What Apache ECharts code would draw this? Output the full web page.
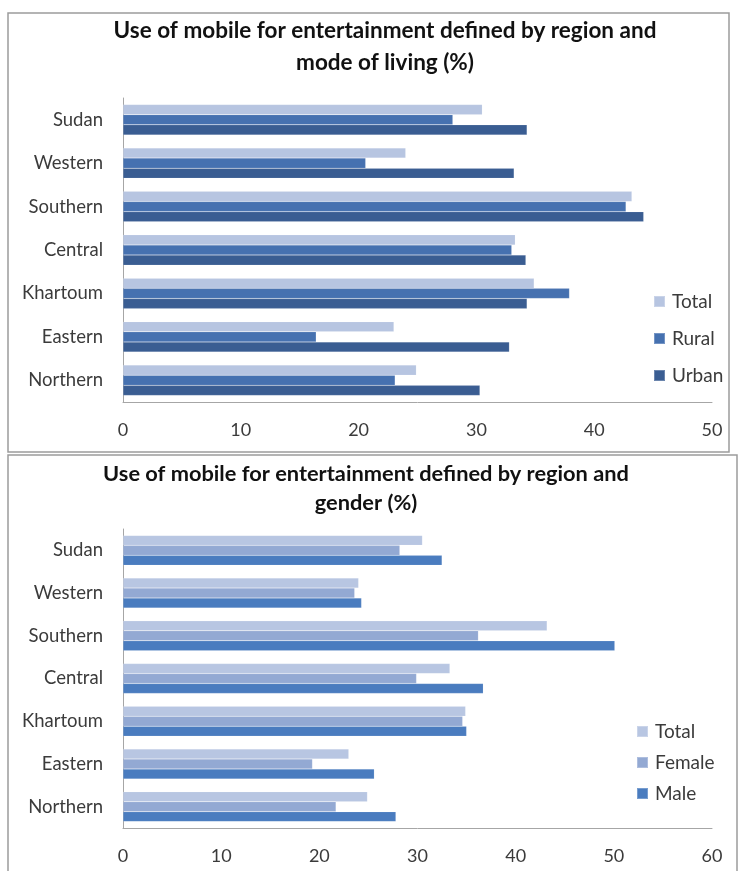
<!DOCTYPE html>
<html>
<head>
<meta charset="utf-8">
<script src="https://cdn.jsdelivr.net/npm/echarts@6/dist/echarts.min.js"></script>
<style>
  html, body { margin: 0; padding: 0; background: #ffffff; }
  #chart { width: 738px; height: 871px; }
</style>
</head>
<body>
<div id="chart"></div>
<script>
// Regions, listed top to bottom
const regions = ['Sudan', 'Western', 'Southern', 'Central', 'Khartoum', 'Eastern', 'Northern'];

// Share using mobile for entertainment (%)
const totalPct  = [30.5, 24.0, 43.2, 33.3, 34.9, 23.0, 24.9];
const ruralPct  = [28.0, 20.6, 42.7, 33.0, 37.9, 16.4, 23.1];
const urbanPct  = [34.3, 33.2, 44.2, 34.2, 34.3, 32.8, 30.3];
const femalePct = [28.2, 23.6, 36.2, 29.9, 34.6, 19.3, 21.7];
const malePct   = [32.5, 24.3, 50.1, 36.7, 35.0, 25.6, 27.8];

// Value-axis ranges
const livingAxisMax = 50;
const genderAxisMax = 60;
const axisStep = 10;

const textColor = '#3b3b3b';
const fontFamily = 'Lato, "Open Sans", sans-serif';

const chart = echarts.init(document.getElementById('chart'), null, { renderer: 'canvas' });

function valueAxis(gridIndex, max) {
  return {
    type: 'value', gridIndex: gridIndex, min: 0, max: max, interval: axisStep,
    axisLine: { show: true, lineStyle: { color: '#a6a6a6', width: 1 } },
    axisTick: { show: false },
    splitLine: { show: false },
    axisLabel: { color: textColor, fontSize: 18, fontFamily: fontFamily, margin: 19 }
  };
}
function categoryAxis(gridIndex) {
  return {
    type: 'category', gridIndex: gridIndex, data: regions, inverse: true,
    axisLine: { show: true, lineStyle: { color: '#a6a6a6', width: 1 } },
    axisTick: { show: false },
    axisLabel: { color: textColor, fontSize: 18.5, fontFamily: fontFamily, margin: 20 }
  };
}
function barSeries(name, data, color, idx) {
  return {
    name: name, type: 'bar', data: data, xAxisIndex: idx, yAxisIndex: idx,
    barCategoryGap: '30%', barGap: '0%',
    itemStyle: { color: color, borderColor: 'rgba(255,255,255,0.25)', borderWidth: 0.5 },
    silent: true
  };
}

const titleStyle = { color: '#111111', fontSize: 22.5, fontWeight: 'bold', fontFamily: fontFamily, lineHeight: 32 };

chart.setOption({
  animation: false,
  backgroundColor: '#ffffff',
  title: [
    { text: 'Use of mobile for entertainment defined by region and\nmode of living (%)',
      left: 380, top: 10, textAlign: 'center', textStyle: titleStyle },
    { text: 'Use of mobile for entertainment defined by region and\ngender (%)',
      left: 361, top: 454, textAlign: 'center', textStyle: Object.assign({}, titleStyle, { fontSize: 21.8, lineHeight: 29 }) }
  ],
  legend: [
    { orient: 'vertical', left: 648, top: 287, itemWidth: 11, itemHeight: 11, itemGap: 18,
      icon: 'rect', data: ['Total', 'Rural', 'Urban'],
      textStyle: { color: textColor, fontSize: 19, fontFamily: fontFamily, padding: [0, 0, 0, 2] } },
    { orient: 'vertical', left: 631, top: 717, itemWidth: 11, itemHeight: 11, itemGap: 12,
      icon: 'rect', data: ['Total ', 'Female', 'Male'],
      textStyle: { color: textColor, fontSize: 19, fontFamily: fontFamily, padding: [0, 0, 0, 2] } }
  ],
  grid: [
    { left: 123, right: 26, top: 98, height: 304 },
    { left: 123, right: 26, top: 529, height: 299 }
  ],
  xAxis: [valueAxis(0, livingAxisMax), valueAxis(1, genderAxisMax)],
  yAxis: [categoryAxis(0), categoryAxis(1)],
  series: [
    barSeries('Total', totalPct, '#b7c5e1', 0),
    barSeries('Rural', ruralPct, '#4671b0', 0),
    barSeries('Urban', urbanPct, '#3a5d92', 0),
    barSeries('Total ', totalPct, '#b8c6e2', 1),
    barSeries('Female', femalePct, '#93a9d3', 1),
    barSeries('Male', malePct, '#4a7cbf', 1)
  ],
  graphic: [
    // frame around the upper panel
    { type: 'rect', shape: { x: 8, y: 13, width: 721, height: 439 },
      style: { fill: null, stroke: '#9c9c9c', lineWidth: 1.5 }, silent: true },
    // frame of the lower panel (open at the bottom)
    { type: 'polyline', shape: { points: [[8, 871], [8, 455], [737, 455], [737, 871]] },
      style: { fill: null, stroke: '#9c9c9c', lineWidth: 1.5 }, silent: true }
  ]
});
</script>
</body>
</html>
